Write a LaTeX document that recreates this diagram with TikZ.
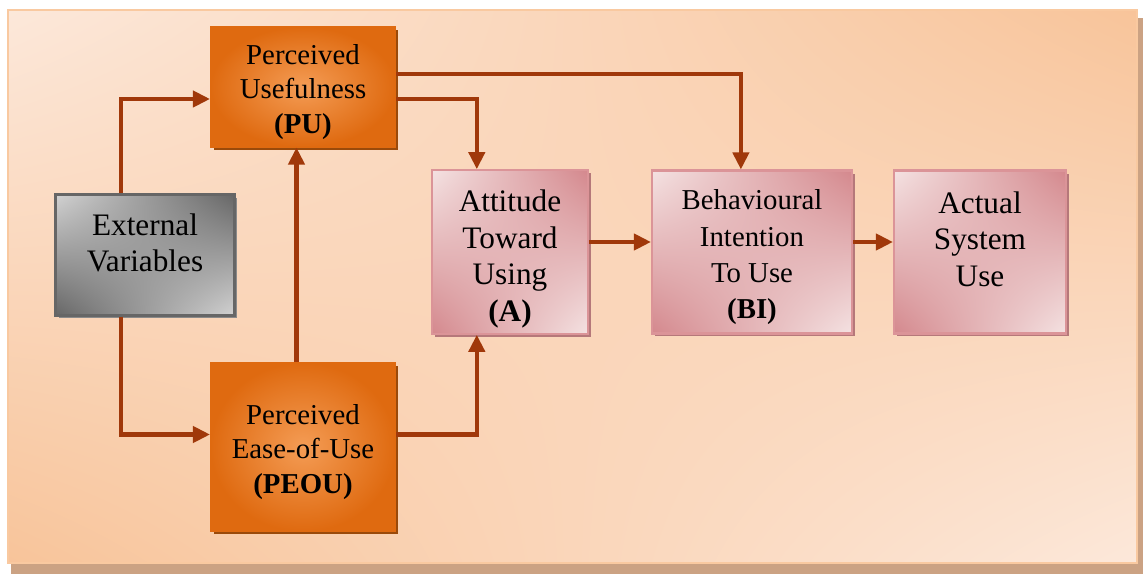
\documentclass[tikz,border=0pt]{standalone}
\usepackage{fontspec}
\setmainfont{Liberation Serif}
\usetikzlibrary{arrows.meta, calc, shadows, shadings}

\definecolor{bgLight}{HTML}{FCE8DA}
\definecolor{bgPeach}{HTML}{F8C49A}
\definecolor{frameLine}{HTML}{F9C9A0}
\definecolor{frameShadow}{HTML}{CBA283}
\definecolor{arrowRust}{HTML}{A0380A}
\definecolor{orangeDark}{HTML}{DF6A10}
\definecolor{orangeLight}{HTML}{F49C55}
\definecolor{orangeShadow}{HTML}{9A4A0A}
\definecolor{greyLight}{HTML}{D2D2D2}
\definecolor{greyDark}{HTML}{666666}
\definecolor{greyShadow}{HTML}{8A8A8A}
\definecolor{roseLight}{HTML}{F4E2E2}
\definecolor{roseDark}{HTML}{D4888D}
\definecolor{roseLine}{HTML}{DB9498}
\definecolor{roseShadow}{HTML}{B5787A}

\newcommand{\bigtext}{\fontsize{17.8pt}{20.8pt}\selectfont}
\newcommand{\midtext}{\fontsize{16.4pt}{19.6pt}\selectfont}
\newcommand{\bitext}{\fontsize{16.4pt}{20.6pt}\selectfont}

\begin{document}
\begin{tikzpicture}[x=0.02cm, y=-0.02cm,
  arr/.style={draw=arrowRust, line width=2.3pt, -{Triangle[length=0.34cm, width=0.32cm]}},
  orangebox/.style={draw=orangeDark, line width=0.6pt, inner color=orangeLight, outer color=orangeDark,
    minimum width=3.7cm, align=center, font=\midtext,
    drop shadow={fill=orangeShadow, opacity=1, shadow xshift=0.06cm, shadow yshift=-0.06cm}},
  greybox/.style={draw=greyDark, line width=1.2pt, shade, upper left=greyLight, upper right=greyDark,
    lower left=greyDark, lower right=greyLight, minimum width=3.58cm, minimum height=2.42cm,
    align=center, font=\bigtext,
    drop shadow={fill=greyShadow, opacity=1, shadow xshift=0.06cm, shadow yshift=-0.06cm}},
  rosebox/.style={draw=roseLine, line width=1.2pt, shade, upper left=roseLight, upper right=roseDark,
    lower left=roseDark, lower right=roseLight, minimum height=3.26cm, align=center,
    drop shadow={fill=roseShadow, opacity=1, shadow xshift=0.06cm, shadow yshift=-0.06cm}}]

\useasboundingbox (0,0) rectangle (1143,574);

% frame with shadow and peach background
\fill[frameShadow] (11,18) rectangle (1143,574);
\shade[upper left=bgLight, upper right=bgPeach, lower left=bgPeach, lower right=bgLight]
  (8,10) rectangle (1137,563);
\draw[frameLine, line width=1.2pt] (8,10) rectangle (1137,563);

% boxes
\node[orangebox, minimum height=2.4cm] (pu) at (303,87) {\mbox{}\\[-2.7pt]Perceived\\Usefulness\\\textbf{(PU)}};
\node[orangebox, minimum height=3.38cm] (peou) at (303,447) {\mbox{}\\[-2.7pt]Perceived\\Ease-of-Use\\\textbf{(PEOU)}};
\node[greybox] (ev) at (145,255) {External\\Variables\\[-7pt]\mbox{}};
\node[rosebox, minimum width=3.12cm, font=\bigtext] (att) at (510,252) {\mbox{}\\[-0.6pt]Attitude\\Toward\\Using\\\textbf{(A)}};
\node[rosebox, minimum width=4.0cm, font=\bitext] (bi) at (752,252) {\mbox{}\\[-3.2pt]Behavioural\\Intention\\To Use\\\textbf{(BI)}};
\node[rosebox, minimum width=3.44cm, font=\bigtext] (use) at (980,252) {Actual\\System\\Use\\[-6pt]\mbox{}};

% connectors
\coordinate (evtop) at ($(ev.north west)!0.37!(ev.north east)$);
\coordinate (evbot) at ($(ev.south west)!0.37!(ev.south east)$);
\coordinate (peoutop) at ($(peou.north west)!0.465!(peou.north east)$);
\coordinate (atttop) at ($(att.north west)!0.29!(att.north east)$);
\coordinate (attbot) at ($(att.south west)!0.29!(att.south east)$);
\coordinate (bitop) at ($(bi.north west)!0.445!(bi.north east)$);

\draw[arr] (evtop) |- ([yshift=-0.24cm]pu.west);
\draw[arr] (evbot) |- ([yshift=0.25cm]peou.west);
\draw[arr] (peoutop) -- (peoutop |- pu.south);
\draw[arr] ([yshift=0.26cm]pu.east) -| (bitop);
\draw[arr] ([yshift=-0.24cm]pu.east) -| (atttop);
\draw[arr] ([yshift=0.25cm]peou.east) -| (attbot);
\draw[arr] ([yshift=0.2cm]att.east) -- ([yshift=0.2cm]bi.west);
\draw[arr] ([yshift=0.2cm]bi.east) -- ([yshift=0.2cm]use.west);
\end{tikzpicture}
\end{document}
